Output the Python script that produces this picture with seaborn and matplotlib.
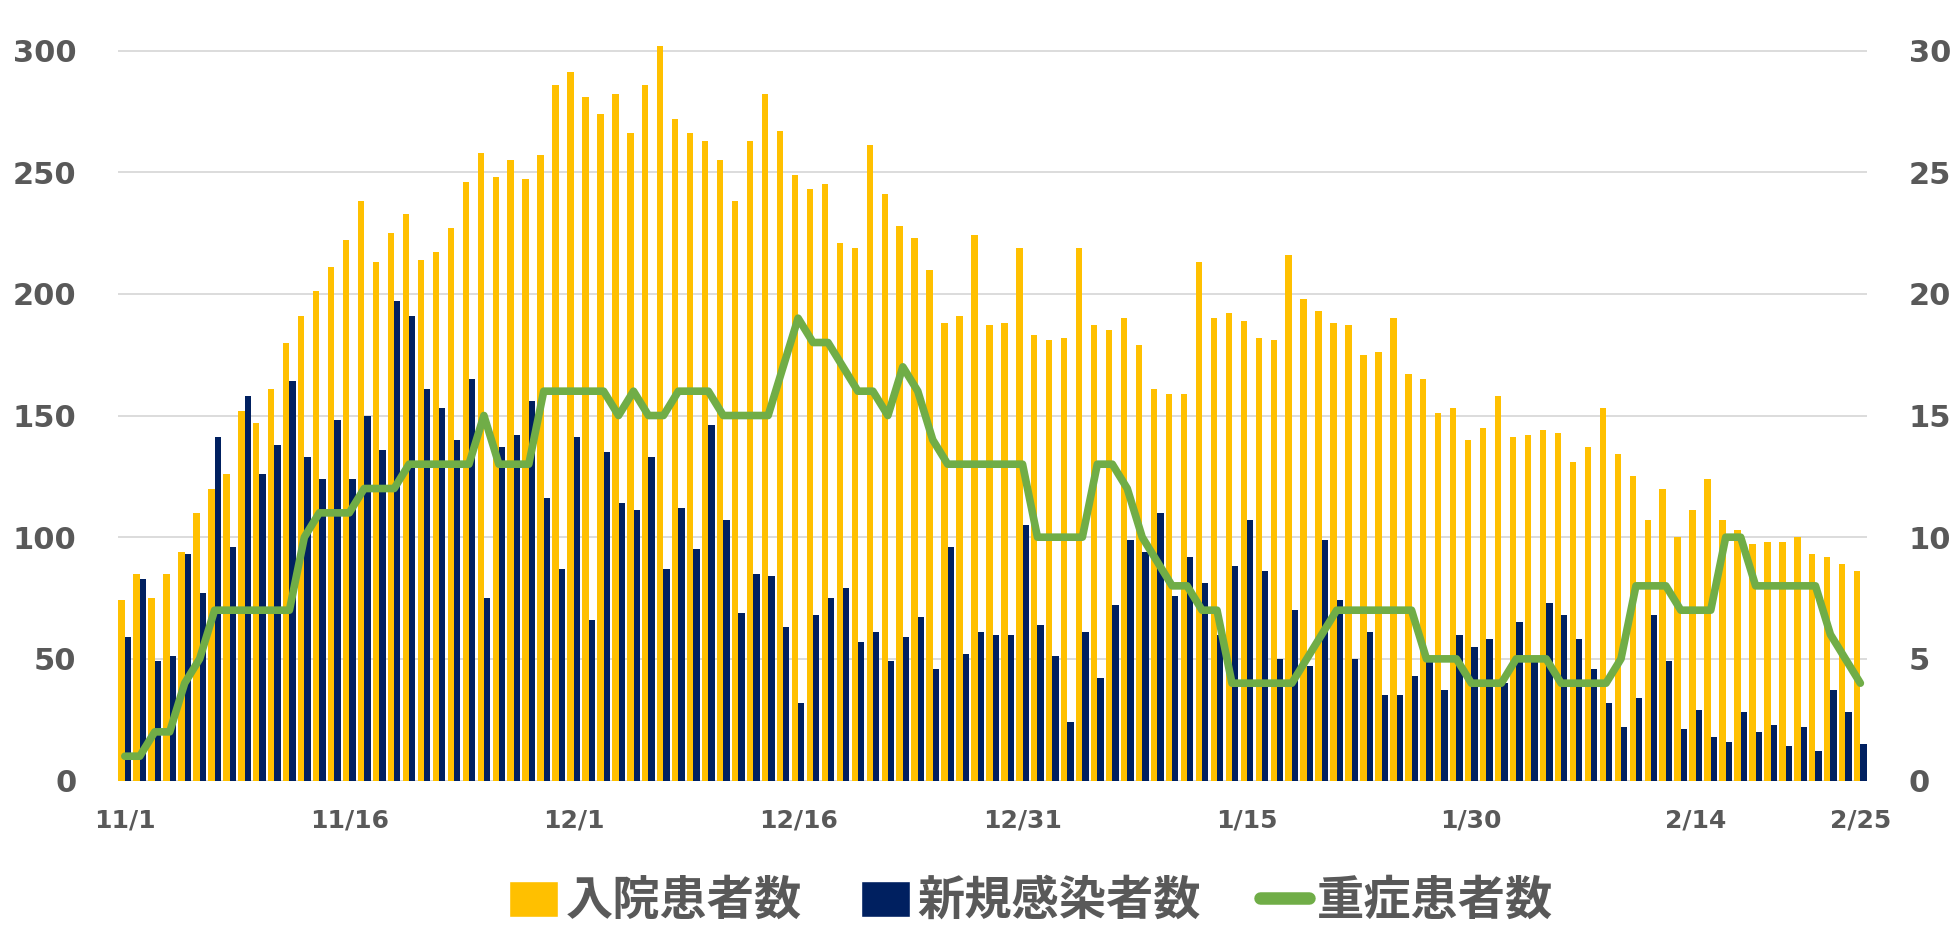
import numpy as np
import pandas as pd
import matplotlib
matplotlib.use("Agg")
import matplotlib.pyplot as plt
import seaborn as sns
from matplotlib.patches import Patch
from matplotlib.lines import Line2D

# ---------------- data ----------------
dates = [f"{d.month}/{d.day}" for d in pd.date_range("2020-11-01", "2021-02-25")]

hospitalized = [
    74, 85, 75, 85, 94, 110, 120, 126, 152, 147,
    161, 180, 191, 201, 211, 222, 238, 213, 225, 233,
    214, 217, 227, 246, 258, 248, 255, 247, 257, 286,
    291, 281, 274, 282, 266, 286, 302, 272, 266, 263,
    255, 238, 263, 282, 267, 249, 243, 245, 221, 219,
    261, 241, 228, 223, 210, 188, 191, 224, 187, 188,
    219, 183, 181, 182, 219, 187, 185, 190, 179, 161,
    159, 159, 213, 190, 192, 189, 182, 181, 216, 198,
    193, 188, 187, 175, 176, 190, 167, 165, 151, 153,
    140, 145, 158, 141, 142, 144, 143, 131, 137, 153,
    134, 125, 107, 120, 100, 111, 124, 107, 103, 97,
    98, 98, 100, 93, 92, 89, 86]

new_cases = [
    59, 83, 49, 51, 93, 77, 141, 96, 158, 126,
    138, 164, 133, 124, 148, 124, 150, 136, 197, 191,
    161, 153, 140, 165, 75, 137, 142, 156, 116, 87,
    141, 66, 135, 114, 111, 133, 87, 112, 95, 146,
    107, 69, 85, 84, 63, 32, 68, 75, 79, 57,
    61, 49, 59, 67, 46, 96, 52, 61, 60, 60,
    105, 64, 51, 24, 61, 42, 72, 99, 94, 110,
    76, 92, 81, 60, 88, 107, 86, 50, 70, 47,
    99, 74, 50, 61, 35, 35, 43, 50, 37, 60,
    55, 58, 40, 65, 50, 73, 68, 58, 46, 32,
    22, 34, 68, 49, 21, 29, 18, 16, 28, 20,
    23, 14, 22, 12, 37, 28, 15]

severe = [
    1, 1, 2, 2, 4, 5, 7, 7, 7, 7,
    7, 7, 10, 11, 11, 11, 12, 12, 12, 13,
    13, 13, 13, 13, 15, 13, 13, 13, 16, 16,
    16, 16, 16, 15, 16, 15, 15, 16, 16, 16,
    15, 15, 15, 15, 17, 19, 18, 18, 17, 16,
    16, 15, 17, 16, 14, 13, 13, 13, 13, 13,
    13, 10, 10, 10, 10, 13, 13, 12, 10, 9,
    8, 8, 7, 7, 4, 4, 4, 4, 4, 5,
    6, 7, 7, 7, 7, 7, 7, 5, 5, 5,
    4, 4, 4, 5, 5, 5, 4, 4, 4, 4,
    5, 8, 8, 8, 7, 7, 7, 10, 10, 8,
    8, 8, 8, 8, 6, 5, 4]

series_names = ["入院患者数", "新規感染者数", "重症患者数"]
tick_labels = ["11/1", "11/16", "12/1", "12/16", "12/31", "1/15", "1/30", "2/14", "2/25"]
left_ticks = [0, 50, 100, 150, 200, 250, 300]
right_ticks = [0, 5, 10, 15, 20, 25, 30]

# ---------------- style ----------------
YELLOW = "#FFC000"
NAVY = "#002060"
GREEN = "#70AD47"
GRID = "#D9D9D9"
TXT = "#595959"

sns.set_theme(style="white")
plt.rcParams["font.family"] = ["DejaVu Sans"]
plt.rcParams["font.weight"] = "bold"

n = len(dates)
bars = pd.DataFrame({
    "date": dates * 2,
    "series": [series_names[0]] * n + [series_names[1]] * n,
    "value": hospitalized + new_cases,
})
line_df = pd.DataFrame({"pos": np.arange(n), "severe": severe})

fig = plt.figure(figsize=(19.52, 9.26), dpi=100)
ax = fig.add_axes([0.0605, 0.1571, 0.896, 0.8015])

sns.barplot(data=bars, x="date", y="value", hue="series", order=dates,
            hue_order=series_names[:2], palette=[YELLOW, NAVY], saturation=1,
            width=0.85, dodge=True, linewidth=0, errorbar=None, legend=False, ax=ax)

ax.set_xlim(-0.45, n - 1 + 0.45)
ax.set_ylim(0, 305)
ax.set_yticks(left_ticks)
ax.yaxis.grid(True, color=GRID, linewidth=1.3)
ax.xaxis.grid(False)
ax.set_axisbelow(True)
ax.set_xticks([dates.index(t) for t in tick_labels], tick_labels)
ax.tick_params(axis="x", length=0, pad=20, labelsize=18, labelcolor=TXT)
ax.tick_params(axis="y", length=0, pad=30, labelsize=22, labelcolor=TXT)
ax.set_xlabel("")
ax.set_ylabel("")
for s in ax.spines.values():
    s.set_visible(False)

ax2 = ax.twinx()
sns.lineplot(data=line_df, x="pos", y="severe", color=GREEN, linewidth=5.5,
             solid_capstyle="round", solid_joinstyle="round", ax=ax2)
ax2.set_ylim(0, 30.5)
ax2.set_yticks(right_ticks)
ax2.tick_params(axis="y", length=0, pad=30, labelsize=22, labelcolor=TXT)
ax2.set_xlim(-0.45, n - 1 + 0.45)
ax2.set_ylabel("")
ax2.set_xlabel("")
ax2.grid(False)
for s in ax2.spines.values():
    s.set_visible(False)

handles = [Patch(facecolor=YELLOW), Patch(facecolor=NAVY),
           Line2D([], [], color=GREEN, linewidth=9, solid_capstyle="round")]
fig.legend(handles=handles, labels=series_names, loc="center",
           bbox_to_anchor=(0.528, 0.027), ncol=3, frameon=False,
           prop={"family": ["Noto Sans CJK JP", "DejaVu Sans"], "weight": "bold", "size": 34},
           handlelength=1.05, handleheight=0.8, handletextpad=0.15,
           columnspacing=1.25, labelcolor=TXT, borderpad=0)

fig.savefig("out.png", dpi=100)
